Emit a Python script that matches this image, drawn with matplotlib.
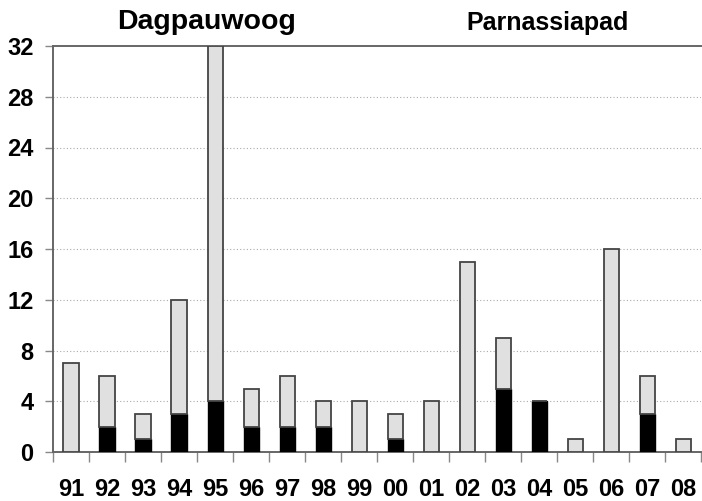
import matplotlib
matplotlib.use("Agg")
import matplotlib.pyplot as plt
import numpy as np

years = ["91", "92", "93", "94", "95", "96", "97", "98", "99",
         "00", "01", "02", "03", "04", "05", "06", "07", "08"]
totals = [7, 6, 3, 12, 32, 5, 6, 4, 4, 3, 4, 15, 9, 4, 1, 16, 6, 1]
black_part = [0, 2, 1, 3, 4, 2, 2, 2, 0, 1, 0, 0, 5, 4, 0, 0, 3, 0]
gray_part = [t - b for t, b in zip(totals, black_part)]
yticks = [0, 4, 8, 12, 16, 20, 24, 28, 32]

plt.rcParams['font.family'] = ['Liberation Sans', 'DejaVu Sans']

fig = plt.figure(figsize=(7.02, 5.01), dpi=100)
ax = fig.add_axes([53/702, 1 - 452/501, 1 - 53/702 - 0.001, (452 - 46)/501])

x = np.arange(len(years))
w = 0.42
ax.bar(x, black_part, width=w, color='black', edgecolor='black', linewidth=1, zorder=3)
ax.bar(x, gray_part, width=w, bottom=black_part, color='#e0e0e0',
       edgecolor='#444444', linewidth=1.3, zorder=3)

ax.set_xlim(-0.5, len(years) - 0.5)
ax.set_ylim(0, 32)
ax.set_yticks(yticks)
ax.set_yticklabels([str(v) for v in yticks], fontsize=17, fontweight='bold')
ax.set_xticks(x)
ax.set_xticklabels(years, fontsize=17, fontweight='bold',
                   family=['Liberation Sans Narrow', 'Liberation Sans'])
ax.tick_params(axis='x', length=0, pad=19)
ax.set_xticks(np.arange(-0.5, len(years), 1.0), minor=True)
ax.tick_params(axis='x', which='minor', length=7, color='#888888', width=1)
ax.tick_params(axis='y', length=6, color='#888888', width=1, pad=8)

for v in yticks[1:-1]:
    ax.axhline(v, color='#aaaaaa', linestyle=(0, (1, 2)), linewidth=0.8, zorder=1)

for s in ['left', 'bottom', 'top']:
    ax.spines[s].set_color('#666666')
    ax.spines[s].set_linewidth(1.4)
ax.spines['right'].set_visible(False)

fig.text(207/702, 1 - 22/501, "Dagpauwoog", ha='center', va='center',
         fontsize=20.5, fontweight='bold')
fig.text(548/702, 1 - 23/501, "Parnassiapad", ha='center', va='center',
         fontsize=18, fontweight='bold')

fig.savefig("out.png", dpi=100)
